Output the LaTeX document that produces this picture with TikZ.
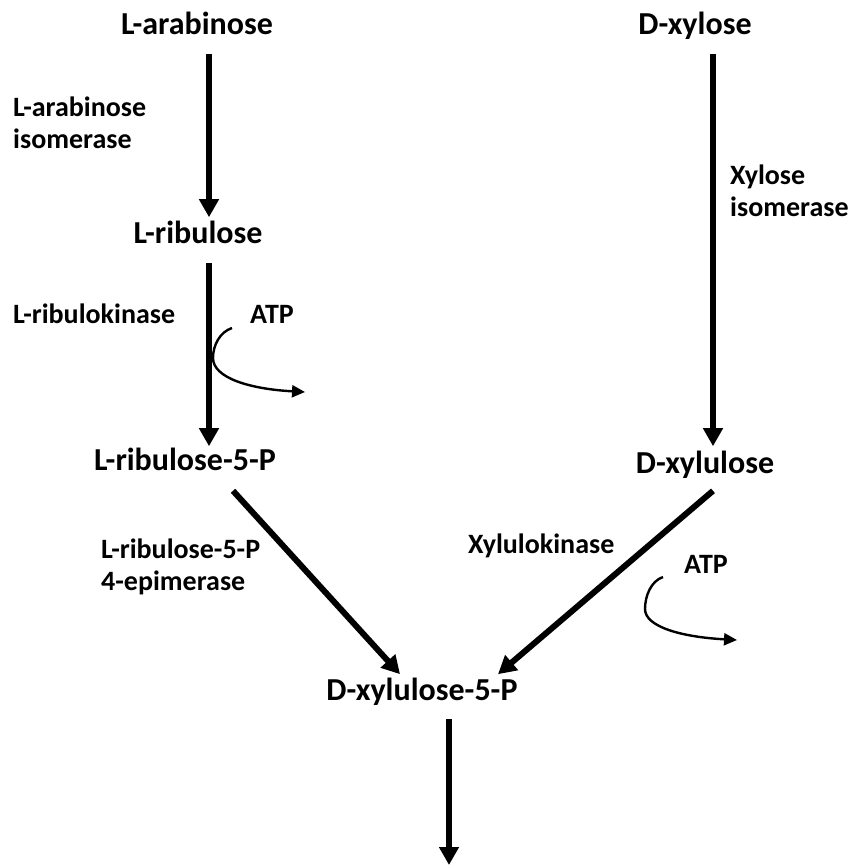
\documentclass[tikz,border=0pt]{standalone}
\usepackage{fontspec}
\setmainfont{Carlito}
\usetikzlibrary{arrows.meta}

\begin{document}
\begin{tikzpicture}[x=1pt, y=-1pt,
    >={Triangle[length=18pt, width=19pt]},                    % filled arrow heads
    sugar/.style={font=\fontsize{32}{36}\selectfont\bfseries, inner sep=0pt, text height=0.66em, text depth=0.2em, anchor=base},
    enzyme/.style={font=\fontsize{28}{32}\selectfont\bfseries, inner sep=0pt, align=left, anchor=base west},
    flow/.style={->, line width=6pt},
    atp/.style={->, line width=2.4pt, >={Triangle[length=13pt, width=12pt]}}]
    \useasboundingbox (0,0) rectangle (849,867);

    % sugars
    \node[sugar] (arab) at (197,35) {L-arabinose};
    \node[sugar] (xyl) at (695,35) {D-xylose};
    \node[sugar] (ribu) at (198,243) {L-ribulose};
    \node[sugar] (ribup) at (185,470) {L-ribulose-5-P};
    \node[sugar] (xylu) at (705,473) {D-xylulose};
    \node[sugar] (xylup) at (422,700) {D-xylulose-5-P};
    \coordinate (out) at (449,865);

    % enzymes (base = last line)
    \node[enzyme] (araA) at (13,148) {L-arabinose\\isomerase};
    \node[enzyme] (araB) at (13,323) {L-ribulokinase};
    \node[enzyme] (xylA) at (730,216) {Xylose\\isomerase};
    \node[enzyme] (araD) at (101,590) {L-ribulose-5-P\\4-epimerase};
    \node[enzyme] (xylB) at (468,553) {Xylulokinase};
    \node[enzyme, anchor=base] (atp1) at (272,323) {ATP};
    \node[enzyme, anchor=base] (atp2) at (706,573) {ATP};

    % main arrows
    \draw[flow] ([xshift=12pt, yshift=-16.6pt]arab.south) -- ([xshift=11pt, yshift=19pt]ribu.north);
    \draw[flow] ([xshift=11pt, yshift=-17.6pt]ribu.south) -- ([xshift=24pt, yshift=17pt]ribup.north);
    \draw[flow] ([xshift=18pt, yshift=-16.6pt]xyl.south) -- ([xshift=8pt, yshift=20pt]xylu.north);
    \draw[flow] ([xshift=48pt, yshift=-18.6pt]ribup.south) -- ([xshift=-22pt, yshift=19pt]xylup.north);
    \draw[flow] ([xshift=8pt, yshift=-15.6pt]xylu.south) -- ([xshift=76pt, yshift=19pt]xylup.north);
    \draw[flow] ([xshift=27pt, yshift=-16.6pt]xylup.south) -- (out);

    % ATP side arrows
    \coordinate (atp1a) at (232,328);
    \coordinate (atp1b) at (305,392);
    \coordinate (atp2a) at (663,577);
    \coordinate (atp2b) at (737,640);
    \draw[atp] (atp1a) .. controls (220,332) and (213,345) .. (213,358)
        .. controls (213,378) and (250,389) .. (atp1b);
    \draw[atp] (atp2a) .. controls (651,581) and (645,596) .. (645,609)
        .. controls (645,627) and (682,637) .. (atp2b);

\end{tikzpicture}
\end{document}
